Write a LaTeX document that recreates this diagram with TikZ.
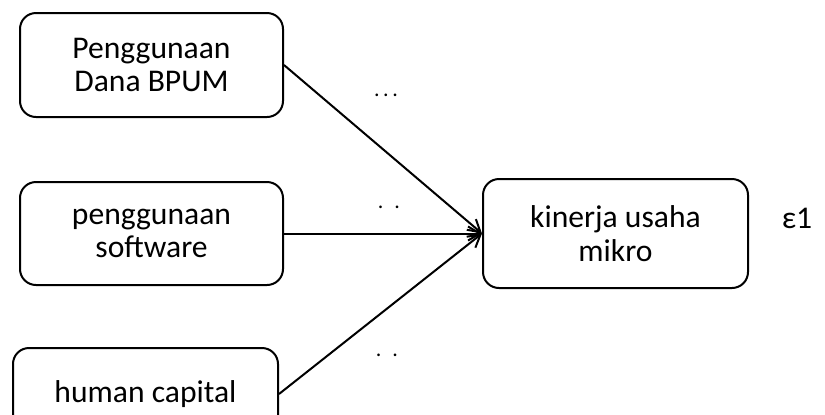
\documentclass[tikz,border=0pt]{standalone}
\usepackage{fontspec}
\setmainfont{Carlito}
\usetikzlibrary{arrows.meta}
\begin{document}
\begin{tikzpicture}[x=0.5pt,y=-0.5pt,
  box/.style={draw,line width=1pt,rounded corners=8pt,align=center,inner sep=0pt,
    font=\fontsize{15.8pt}{16.8pt}\selectfont},
  conn/.style={line width=1pt,-{Straight Barb[length=6pt,width=7pt,line width=1pt]}},
  dots/.style={font=\fontsize{11pt}{11pt}\selectfont,inner sep=0pt}]
\useasboundingbox (0,0) rectangle (825,414);
\clip (0,0) rectangle (825,414);
\node[box,minimum width=131.5pt,minimum height=52pt] (b1) at (151.5,65) {Penggunaan\\Dana BPUM};
\node[box,minimum width=131.5pt,minimum height=51.5pt] (b2) at (151.5,233.5) {penggunaan\\software};
\node[box,minimum width=132.5pt,minimum height=46pt] (b3) at (145.5,394) {human capital};
\node[box,minimum width=132.5pt,minimum height=54.5pt] (t) at (615.5,233.5) {kinerja usaha\\mikro};
\node[box,draw=none,anchor=center] (eps) at (797,218) {ε1};
\draw[conn] (b1.east) -- (t.west);
\draw[conn] (b2.east) -- (t.west);
\draw[conn] (b3.east) -- (t.west);
\node[dots] (l1) at (386,95) {.\,.\,.};
\node[dots] (l2) at (389,207) {.\,\,\,.};
\node[dots] (l3) at (387,355) {.\,\,\,.};
\end{tikzpicture}
\end{document}
